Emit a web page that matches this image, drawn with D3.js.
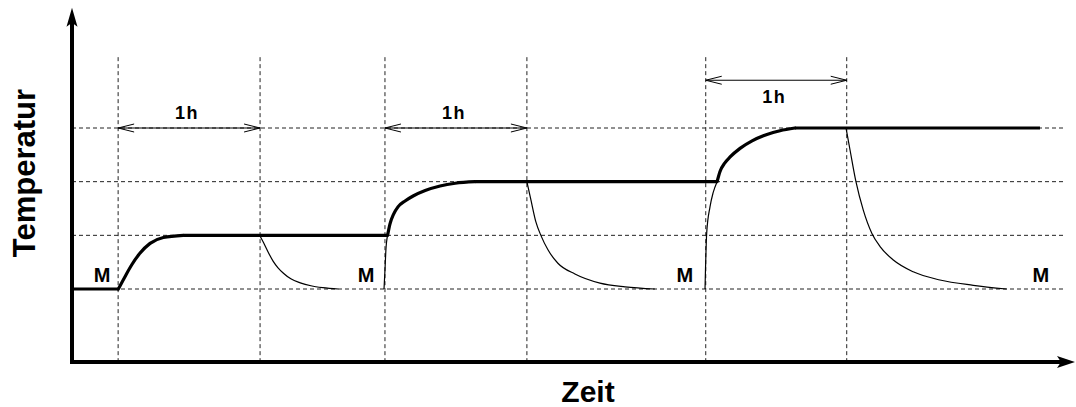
<!DOCTYPE html>
<html><head><meta charset="utf-8">
<script src="https://cdn.jsdelivr.net/npm/d3@7"></script>
<style>
html,body{margin:0;padding:0;background:#fff;}
text{font-family:"Liberation Sans",Arial,Helvetica,sans-serif;font-weight:bold;fill:#000;}
</style></head>
<body>
<svg id="c" width="1076" height="407"></svg>
<script>
// ---- data (time in minutes, temperature in level units) ----
const levels = [0, 1, 2, 3];
const markerTimes = [19.5, 79.5, 132.3, 192.3, 267.9, 327.5];
const hourSpans = [[19.5, 79.5, 3.0], [132.3, 192.3, 3.0], [267.9, 327.5, 3.89]];
const hourLabel = "1h";
const mTimes = [12.7, 124.3, 259.1, 409.6];
const mLabel = "M";
const xTitle = "Zeit";
const yTitle = "Temperatur";

// thick line: holding segments (flat) and heating ramps
const flat0 = [[0, 0], [19.6, 0]];
const rise1 = [[19.6, 0], [22.4, 0.23], [25.2, 0.447], [28.7, 0.665], [33.0, 0.85], [38.6, 0.96], [47.0, 1.0]];
const flat1 = [[47.0, 1], [133.4, 1]];
const rise2 = [[133.4, 1], [134.4, 1.21], [135.9, 1.39], [137.8, 1.53], [140.8, 1.64], [144.2, 1.733], [149.3, 1.835], [155.6, 1.919], [162.0, 1.971], [170.4, 2.0]];
const flat2 = [[170.4, 2], [272.7, 2]];
const rise3 = [[272.7, 2], [273.9, 2.186], [276.0, 2.35], [278.2, 2.46], [282.4, 2.62], [287.5, 2.76], [293.8, 2.88], [299.3, 2.95], [305.6, 3.0]];
const flat3 = [[305.6, 3], [409.2, 3]];

// thin lines: cooling of the sample, and quick rise of the sample
const cool1 = [[79.3, 1], [81.0, 0.86], [83.0, 0.68], [85.0, 0.52], [87.0, 0.40], [89.5, 0.29], [92.5, 0.19], [96.5, 0.115], [101.0, 0.06], [106.0, 0.025], [112.6, 0]];
const cool2 = [[192.3, 2], [194.0, 1.66], [196.1, 1.25], [198.3, 0.99], [201.2, 0.73], [205.4, 0.48], [212.6, 0.28], [223.2, 0.11], [233.8, 0.04], [246.4, 0]];
const cool3 = [[327.2, 3], [328.9, 2.59], [331.4, 2.0], [334.5, 1.47], [338.1, 1.04], [341.6, 0.79], [347.2, 0.54], [355.6, 0.32], [366.9, 0.168], [381.0, 0.069], [395.1, 0]];
const heat2 = [[131.9, 0], [132.3, 0.35], [132.7, 0.73], [133.4, 1]];
const heat3 = [[267.6, 0], [268.3, 1.04], [269.7, 1.53], [271.0, 1.79], [272.7, 2]];

// ---- drawing ----
const svg = d3.select("#c");
const x = d3.scaleLinear().domain([0, 424]).range([72, 1075]);
const y = d3.scaleLinear().domain([0, 3]).range([289, 128]);
const tMax = 424, gridEnd = 419.8, lowL = -1.36, topL = 5.24, vTop = 4.32;

// grid (dashed)
const g = svg.append("g").attr("stroke", "#222").attr("stroke-width", 1).attr("stroke-dasharray", "4,3");
g.selectAll("line.h").data(levels).join("line").attr("class", "h")
  .attr("x1", x(0)).attr("x2", x(gridEnd)).attr("y1", d => y(d)).attr("y2", d => y(d));
g.selectAll("line.v").data(markerTimes).join("line").attr("class", "v")
  .attr("x1", d => x(d)).attr("x2", d => x(d)).attr("y1", y(vTop)).attr("y2", y(lowL));

// axes
const xAxis = d3.axisBottom(x).tickValues([]).tickSizeOuter(0);
const ax = svg.append("g").attr("transform", `translate(0,${y(lowL)})`).call(xAxis);
ax.select(".domain").attr("stroke", "#000").attr("stroke-width", 4)
  .attr("d", `M${x(0) - 2},0H${x(tMax) - 12}`);
const yAxis = d3.axisLeft(y).tickValues([]).tickSizeOuter(0);
const ay = svg.append("g").attr("transform", `translate(${x(0)},0)`).call(yAxis);
ay.select(".domain").attr("stroke", "#000").attr("stroke-width", 4)
  .attr("d", `M0,${y(lowL) + 2}V${y(topL) + 12}`);
// arrowheads
const xe = x(tMax), ye = y(lowL);
svg.append("path").attr("fill", "#000")
  .attr("d", `M${xe},${ye} L${xe - 18},${ye - 6} L${xe - 14},${ye} L${xe - 18},${ye + 6} Z`);
const xt = x(0), yt = y(topL);
svg.append("path").attr("fill", "#000")
  .attr("d", `M${xt},${yt} L${xt - 5.5},${yt + 19} L${xt},${yt + 15} L${xt + 5.5},${yt + 19} Z`);

// lines
const line = d3.line().x(d => x(d[0])).y(d => y(d[1]));
const curve = d3.line().x(d => x(d[0])).y(d => y(d[1])).curve(d3.curveMonotoneX);

[cool1, cool2, cool3, heat2, heat3].forEach(s => {
  svg.append("path").attr("d", curve(s)).attr("fill", "none").attr("stroke", "#000").attr("stroke-width", 1.2);
});
[flat0, flat1, flat2, flat3].forEach(s => {
  svg.append("path").attr("d", line(s)).attr("fill", "none").attr("stroke", "#000").attr("stroke-width", 3.2);
});
[rise1, rise2, rise3].forEach(s => {
  svg.append("path").attr("d", curve(s)).attr("fill", "none").attr("stroke", "#000").attr("stroke-width", 3.2).attr("stroke-linecap", "round");
});

// hour span arrows
hourSpans.forEach((s, i) => {
  const x1 = x(s[0]), x2 = x(s[1]), yy = y(s[2]);
  svg.append("path").attr("fill", "none").attr("stroke", "#000").attr("stroke-width", 1)
    .attr("d", `M${x1},${yy}H${x2} M${x1 + 16},${yy - 4}L${x1},${yy}L${x1 + 16},${yy + 4} M${x2 - 16},${yy - 4}L${x2},${yy}L${x2 - 16},${yy + 4}`);
  const below = i === 2;
  svg.append("text").attr("x", (x1 + x2) / 2 - 2).attr("y", below ? yy + 23 : yy - 9.5)
    .attr("text-anchor", "middle").attr("font-size", 18).attr("letter-spacing", 1.5).text(hourLabel);
});

// M labels
svg.selectAll("text.m").data(mTimes).join("text").attr("class", "m")
  .attr("x", d => x(d)).attr("y", 282).attr("text-anchor", "middle").attr("font-size", 20).text(mLabel);

// axis titles
svg.append("text").attr("x", 588).attr("y", 402).attr("text-anchor", "middle").attr("font-size", 30).text(xTitle);
svg.append("text").attr("transform", "translate(35,173) rotate(-90)").attr("text-anchor", "middle").attr("font-size", 31).text(yTitle);
</script>
</body></html>
